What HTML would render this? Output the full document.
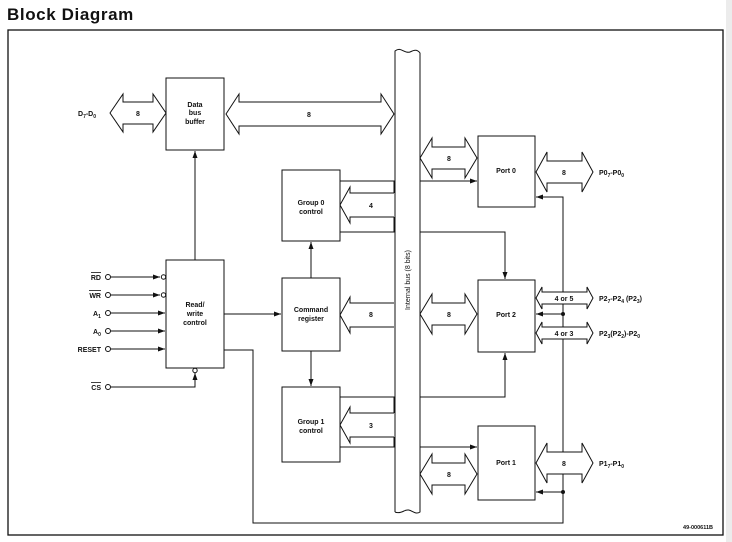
<!DOCTYPE html>
<html><head><meta charset="utf-8"><style>
html,body{margin:0;padding:0;background:#fff;}
svg{display:block;}
text{font-family:"Liberation Sans",Arial,sans-serif;fill:#111;}
.t{font-size:7px;font-weight:bold;}
</style></head><body>
<svg width="732" height="542" viewBox="0 0 732 542" xmlns="http://www.w3.org/2000/svg">
<rect x="726" y="0" width="6" height="542" fill="#ececec"/>
<text x="7" y="20" style="font-size:17px;font-weight:900;letter-spacing:0.6px">Block Diagram</text>
<rect x="8" y="30" width="715" height="505" fill="none" stroke="#111" stroke-width="1.3"/>
<defs><marker id="a" markerWidth="8" markerHeight="6" refX="7" refY="3" orient="auto" markerUnits="userSpaceOnUse"><path d="M0,0.5 L7,3 L0,5.5z" fill="#111"/></marker></defs>
<g fill="none" stroke="#111" stroke-width="1">
<path d="M395,512 L395,51 C401,46 404,54 410,52 C414,50 417,49 420,53 L420,512 C414,516 411,507 404,511 C400,513 397,513 395,512" fill="#fff"/>
<rect x="166" y="78" width="58" height="72"/>
<rect x="166" y="260" width="58" height="108"/>
<rect x="282" y="170" width="58" height="71"/>
<rect x="282" y="278" width="58" height="73"/>
<rect x="282" y="387" width="58" height="75"/>
<rect x="478" y="136" width="57" height="71"/>
<rect x="478" y="280" width="57" height="72"/>
<rect x="478" y="426" width="57" height="74"/>
<line x1="195" y1="260" x2="195" y2="151" marker-end="url(#a)"/>
<line x1="224" y1="314" x2="281" y2="314" marker-end="url(#a)"/>
<polyline points="224,350 253,350 253,523 563,523 563,492"/>
<line x1="311" y1="278" x2="311" y2="242" marker-end="url(#a)"/>
<line x1="311" y1="351" x2="311" y2="386" marker-end="url(#a)"/>
<polyline points="340,181 394,181 394,193"/>
<polyline points="340,232 394,232 394,217"/>
<polyline points="340,397 394,397 394,413"/>
<polyline points="340,447 394,447 394,437"/>
<line x1="420" y1="181" x2="477" y2="181" marker-end="url(#a)"/>
<polyline points="420,232 505,232 505,279" marker-end="url(#a)"/>
<polyline points="420,397 505,397 505,353" marker-end="url(#a)"/>
<line x1="420" y1="447" x2="477" y2="447" marker-end="url(#a)"/>
<polyline points="563,492 563,197 536,197" marker-end="url(#a)"/>
<line x1="563" y1="314" x2="536" y2="314" marker-end="url(#a)"/>
<line x1="563" y1="492" x2="536" y2="492" marker-end="url(#a)"/>
<line x1="111" y1="277" x2="160" y2="277" marker-end="url(#a)"/>
<line x1="111" y1="295" x2="160" y2="295" marker-end="url(#a)"/>
<line x1="111" y1="313" x2="165" y2="313" marker-end="url(#a)"/>
<line x1="111" y1="331" x2="165" y2="331" marker-end="url(#a)"/>
<line x1="111" y1="349" x2="165" y2="349" marker-end="url(#a)"/>
<polyline points="111,387 195,387 195,373" marker-end="url(#a)"/>
<circle cx="108" cy="277" r="2.5" fill="#fff"/>
<circle cx="108" cy="295" r="2.5" fill="#fff"/>
<circle cx="108" cy="313" r="2.5" fill="#fff"/>
<circle cx="108" cy="331" r="2.5" fill="#fff"/>
<circle cx="108" cy="349" r="2.5" fill="#fff"/>
<circle cx="108" cy="387" r="2.5" fill="#fff"/>
<circle cx="163.5" cy="277" r="2.2" fill="#fff"/>
<circle cx="163.5" cy="295" r="2.2" fill="#fff"/>
<circle cx="195" cy="370.5" r="2.2" fill="#fff"/>
<line x1="91" y1="272.5" x2="101" y2="272.5" stroke-width="0.8"/>
<line x1="89" y1="290.5" x2="101" y2="290.5" stroke-width="0.8"/>
<line x1="91" y1="382.5" x2="101" y2="382.5" stroke-width="0.8"/>
<g fill="#fff">
<polygon points="110,113 123,94 123,102 153,102 153,94 166,113 153,132 153,124 123,124 123,132"/>
<polygon points="226,114 239,94 239,102 381,102 381,94 394,114 381,134 381,126 239,126 239,134"/>
<polyline points="394,193 350,193 350,187 340,205 350,223 350,217 394,217"/>
<polyline points="394,303 350,303 350,297 340,315 350,333 350,327 394,327"/>
<polyline points="394,413 350,413 350,407 340,425 350,443 350,437 394,437"/>
<polygon points="420,158 432,138 432,147 465,147 465,138 477,158 465,178 465,169 432,169 432,178"/>
<polygon points="420,314 432,294 432,303 465,303 465,294 477,314 465,334 465,325 432,325 432,334"/>
<polygon points="420,474 432,454 432,463 465,463 465,454 477,474 465,494 465,485 432,485 432,494"/>
<polygon points="536,172 547,152 547,161 582,161 582,152 593,172 582,192 582,183 547,183 547,192"/>
<polygon points="536,463 547,443 547,452 582,452 582,443 593,463 582,483 582,474 547,474 547,483"/>
<polygon points="536,298 542,287 542,292 587,292 587,287 593,298 587,309 587,304 542,304 542,309"/>
<polygon points="536,333 542,322 542,327 587,327 587,322 593,333 587,344 587,339 542,339 542,344"/>
</g>
</g>
<circle cx="563" cy="314" r="2" fill="#111"/>
<circle cx="563" cy="492" r="2" fill="#111"/>
<g class="t">
<text x="78" y="116" class="t">D<tspan font-size="5" dy="2">7</tspan><tspan dy="-2">-D</tspan><tspan font-size="5" dy="2">0</tspan></text>
<text x="138" y="116" text-anchor="middle" class="t">8</text>
<text x="309" y="117" text-anchor="middle" class="t">8</text>
<text x="195" y="107" text-anchor="middle" class="t">Data</text>
<text x="195" y="115" text-anchor="middle" class="t">bus</text>
<text x="195" y="124" text-anchor="middle" class="t">buffer</text>
<text x="195" y="307" text-anchor="middle" class="t">Read/</text>
<text x="195" y="316" text-anchor="middle" class="t">write</text>
<text x="195" y="325" text-anchor="middle" class="t">control</text>
<text x="311" y="205" text-anchor="middle" class="t">Group 0</text>
<text x="311" y="214" text-anchor="middle" class="t">control</text>
<text x="311" y="312" text-anchor="middle" class="t">Command</text>
<text x="311" y="321" text-anchor="middle" class="t">register</text>
<text x="311" y="424" text-anchor="middle" class="t">Group 1</text>
<text x="311" y="433" text-anchor="middle" class="t">control</text>
<text x="371" y="208" text-anchor="middle" class="t">4</text>
<text x="371" y="317" text-anchor="middle" class="t">8</text>
<text x="371" y="428" text-anchor="middle" class="t">3</text>
<text x="449" y="161" text-anchor="middle" class="t">8</text>
<text x="449" y="317" text-anchor="middle" class="t">8</text>
<text x="449" y="477" text-anchor="middle" class="t">8</text>
<text x="506" y="173" text-anchor="middle" class="t">Port 0</text>
<text x="506" y="317" text-anchor="middle" class="t">Port 2</text>
<text x="506" y="465" text-anchor="middle" class="t">Port 1</text>
<text x="564" y="175" text-anchor="middle" class="t">8</text>
<text x="564" y="466" text-anchor="middle" class="t">8</text>
<text x="564" y="301" text-anchor="middle" class="t">4 or 5</text>
<text x="564" y="336" text-anchor="middle" class="t">4 or 3</text>
<text x="599" y="175" class="t">P0<tspan font-size="5" dy="2">7</tspan><tspan dy="-2">-P0</tspan><tspan font-size="5" dy="2">0</tspan></text>
<text x="599" y="301" class="t">P2<tspan font-size="5" dy="2">7</tspan><tspan dy="-2">-P2</tspan><tspan font-size="5" dy="2">4</tspan><tspan dy="-2"> (P2</tspan><tspan font-size="5" dy="2">3</tspan><tspan dy="-2">)</tspan></text>
<text x="599" y="336" class="t">P2<tspan font-size="5" dy="2">3</tspan><tspan dy="-2">(P2</tspan><tspan font-size="5" dy="2">2</tspan><tspan dy="-2">)-P2</tspan><tspan font-size="5" dy="2">0</tspan></text>
<text x="599" y="466" class="t">P1<tspan font-size="5" dy="2">7</tspan><tspan dy="-2">-P1</tspan><tspan font-size="5" dy="2">0</tspan></text>
<text x="101" y="280" text-anchor="end" class="t">RD</text>
<text x="101" y="298" text-anchor="end" class="t">WR</text>
<text x="93" y="316" class="t">A<tspan font-size="5" dy="2">1</tspan></text>
<text x="93" y="334" class="t">A<tspan font-size="5" dy="2">0</tspan></text>
<text x="101" y="352" text-anchor="end" class="t">RESET</text>
<text x="101" y="390" text-anchor="end" class="t">CS</text>
<text x="410" y="280" text-anchor="middle" class="t" transform="rotate(-90 410 280)" style="font-weight:normal">Internal bus (8 bits)</text>
<text x="713" y="529" text-anchor="end" style="font-size:5.5px">49-000611B</text>
</g>
</svg>
</body></html>
